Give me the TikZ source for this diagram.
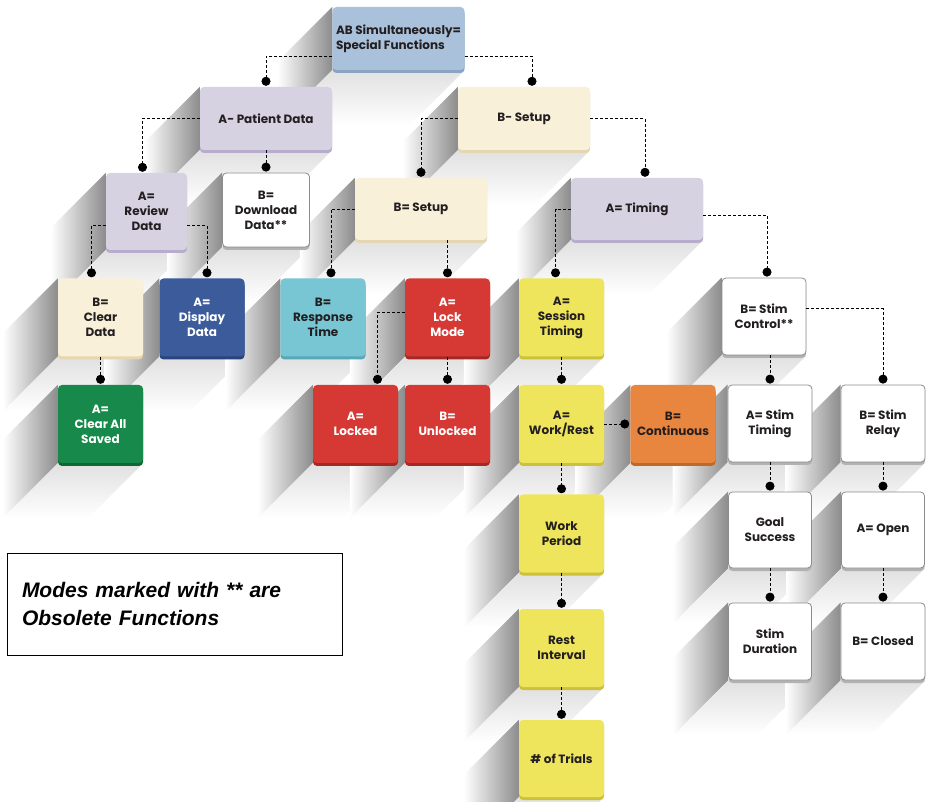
\documentclass[tikz,border=0pt]{standalone}
\usepackage{fontspec}
\setmainfont{Poppins}
\newfontfamily\notefont{Liberation Sans}
\usetikzlibrary{arrows.meta,shadows,backgrounds}

\definecolor{rootfill}{HTML}{A9C1DA}
\definecolor{rootedge}{HTML}{8AA3C0}
\definecolor{lavfill}{HTML}{D7D2E2}
\definecolor{lavedge}{HTML}{B7ACCC}
\definecolor{creamfill}{HTML}{F8F0D9}
\definecolor{creamedge}{HTML}{E4D6B0}
\definecolor{navyfill}{HTML}{3B5B9B}
\definecolor{navyedge}{HTML}{294580}
\definecolor{cyanfill}{HTML}{78C6D4}
\definecolor{cyanedge}{HTML}{57A8B7}
\definecolor{redfill}{HTML}{D63934}
\definecolor{rededge}{HTML}{A62824}
\definecolor{greenfill}{HTML}{17894A}
\definecolor{greenedge}{HTML}{0E6834}
\definecolor{yelfill}{HTML}{EEE55C}
\definecolor{yeledge}{HTML}{CDC13A}
\definecolor{orangefill}{HTML}{E8853E}
\definecolor{orangeedge}{HTML}{C26827}
\definecolor{inktext}{HTML}{231F20}

\begin{document}
\begin{tikzpicture}[
    x=1pt, y=-1pt,
    tile/.style={rectangle, rounded corners=4pt, align=center, inner sep=2pt,
        text=inktext, font=\bfseries\fontsize{12}{15}\selectfont},
    small/.style={tile, minimum width=85pt, minimum height=78pt},
    wide/.style={tile, minimum width=132pt, minimum height=63pt},
    rim/.style={drop shadow={shadow xshift=0pt, shadow yshift=-3pt, fill=#1, opacity=1}},
    rootc/.style={fill=rootfill, rim=rootedge},
    lav/.style={fill=lavfill, rim=lavedge},
    cream/.style={fill=creamfill, rim=creamedge},
    plain/.style={fill=white, draw=black!45, line width=0.8pt, rim=black!30},
    navy/.style={fill=navyfill, rim=navyedge, text=white},
    cyan/.style={fill=cyanfill, rim=cyanedge},
    red/.style={fill=redfill, rim=rededge, text=white},
    green/.style={fill=greenfill, rim=greenedge, text=white},
    yel/.style={fill=yelfill, rim=yeledge},
    orange/.style={fill=orangefill, rim=orangeedge},
    link/.style={densely dashed, line width=0.8pt, -{Circle[length=9pt]}, shorten >=1pt},
    notebox/.style={draw=black, line width=0.8pt, fill=white, align=left,
        text width=305pt, minimum width=335pt, minimum height=102pt,
        font=\notefont\bfseries\itshape\fontsize{21}{28}\selectfont}
]
    \useasboundingbox (0,0) rectangle (930,802);

    % Top levels
    \node[wide, rootc, align=left] (root) at (398.5,38.5) {AB Simultaneously=\\Special Functions};
    \node[wide, lav] (patient) at (266,118.5) {A- Patient Data};
    \node[wide, cream] (setupa) at (524,118.5) {B- Setup};
    \node[small, lav, minimum width=81pt, minimum height=77pt] (review) at (146.5,211.5) {A=\\Review\\Data};
    \node[small, plain, minimum width=87pt, minimum height=74pt] (download) at (266,210) {B=\\Download\\Data**};
    \node[wide, cream, minimum height=62pt] (setupb) at (421,209) {B= Setup};
    \node[wide, lav, minimum height=62pt] (timing) at (637,209) {A= Timing};

    % Patient data branch
    \node[small, cream] (clear) at (100.5,317.5) {B=\\Clear\\Data};
    \node[small, navy] (display) at (202,317.5) {A=\\Display\\Data};
    \node[small, green] (clearall) at (100.5,424) {A=\\Clear All\\Saved};

    % Setup branch
    \node[small, cyan] (response) at (323,317.5) {B=\\Response\\Time};
    \node[small, red] (lockmode) at (447.5,317.5) {A=\\Lock\\Mode};
    \node[small, red] (locked) at (355.5,424) {A=\\Locked};
    \node[small, red] (unlocked) at (447.5,424) {B=\\Unlocked};

    % Timing branch
    \node[small, yel] (session) at (561.5,317.5) {A=\\Session\\Timing};
    \node[small, yel] (workrest) at (561.5,424) {A=\\Work/Rest};
    \node[small, orange] (continuous) at (673,424) {B=\\Continuous};
    \node[small, yel] (workperiod) at (561.5,533.5) {Work\\Period};
    \node[small, yel] (rest) at (561.5,648) {Rest\\Interval};
    \node[small, yel, minimum height=77pt] (trials) at (561.5,758.5) {\# of Trials};
    \node[small, plain, minimum width=84pt, minimum height=77pt] (stimctrl) at (764,316.5) {B= Stim\\Control**};
    \node[small, plain, minimum width=84pt, minimum height=77pt] (stimtiming) at (770,423.5) {A= Stim\\Timing};
    \node[small, plain, minimum width=84pt, minimum height=77pt] (stimrelay) at (883,423.5) {B= Stim\\Relay};
    \node[small, plain, minimum width=83pt, minimum height=76pt] (goal) at (770,530) {Goal\\Success};
    \node[small, plain, minimum width=83pt, minimum height=76pt] (open) at (883,530) {A= Open};
    \node[small, plain, minimum width=83pt, minimum height=77pt] (duration) at (770,641.5) {Stim\\Duration};
    \node[small, plain, minimum width=84pt, minimum height=77pt] (closed) at (883,641.5) {B= Closed};

    % Note
    \node[notebox] (note) at (174.5,604) {Modes marked with ** are\\Obsolete Functions};

    % Long shadows
    \begin{scope}[on background layer]
        \foreach \n in {root,patient,setupa,review,download,setupb,timing,clear,display,clearall,
            response,lockmode,locked,unlocked,session,workrest,continuous,workperiod,rest,trials,
            stimctrl,stimtiming,stimrelay,goal,open,duration,closed} {
            \shade[left color=white, middle color=black!10, right color=black!45]
                (\n.north west) -- ++(-55,55) -- ([shift={(-55,55)}]\n.south west) -- (\n.south west) -- cycle;
            \shade[top color=black!12, bottom color=white]
                (\n.south west) -- (\n.south east) -- ([shift={(-55,55)}]\n.south east) -- ([shift={(-55,55)}]\n.south west) -- cycle;
        }
    \end{scope}

    % Connectors
    \draw[link] ([yshift=-18pt]root.west) -| (patient.north);
    \draw[link] ([yshift=-18pt]root.east) -| ([xshift=8pt]setupa.north);
    \draw[link] (patient.west) -| ([xshift=-4pt]review.north);
    \draw[link] (patient.south) -- (download.north);
    \draw[link] (setupa.west) -| (setupb.north);
    \draw[link] (setupa.east) -| ([xshift=8pt]timing.north);
    \draw[link] ([yshift=-14pt]review.west) -| ([xshift=-9pt]clear.north);
    \draw[link] ([yshift=-14pt]review.east) -| ([xshift=5pt]display.north);
    \draw[link] (clear.south) -- (clearall.north);
    \draw[link] (setupb.west) -| ([xshift=8pt]response.north);
    \draw[link] (lockmode.north |- setupb.south) -- (lockmode.north);
    \draw[link] ([yshift=5pt]lockmode.west) -| ([xshift=22pt]locked.north);
    \draw[link] (lockmode.south) -- (unlocked.north);
    \draw[link] (timing.west) -| ([xshift=-6pt]session.north);
    \draw[link] ([yshift=-6pt]timing.east) -| ([xshift=3pt]stimctrl.north);
    \draw[link] (session.south) -- (workrest.north);
    \draw[link] (workrest.east) -- (continuous.west);
    \draw[link] (workrest.south) -- (workperiod.north);
    \draw[link] (workperiod.south) -- (rest.north);
    \draw[link] (rest.south) -- (trials.north);
    \draw[link] (stimtiming.north |- stimctrl.south) -- (stimtiming.north);
    \draw[link] ([yshift=8pt]stimctrl.east) -| (stimrelay.north);
    \draw[link] (stimtiming.south) -- (goal.north);
    \draw[link] (goal.south) -- (duration.north);
    \draw[link] (stimrelay.south) -- (open.north);
    \draw[link] (open.south) -- (closed.north);
\end{tikzpicture}
\end{document}
